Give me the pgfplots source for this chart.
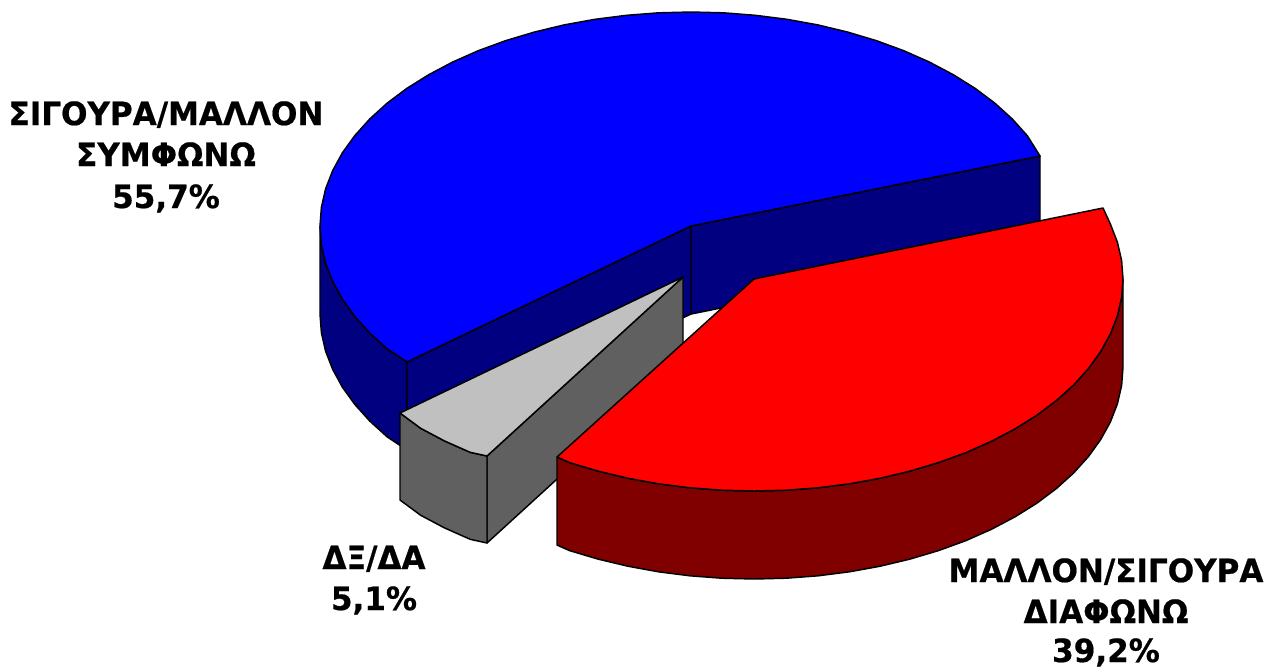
\documentclass[border=0pt]{standalone}
\usepackage{fontspec}
\newfontfamily\labfont{DejaVu Sans Bold}[FakeStretch=0.97, FakeBold=0.6]
\usepackage{pgfplots}
\pgfplotsset{compat=1.18}
\definecolor{bluetop}{HTML}{0000FF}
\definecolor{blueside}{HTML}{000080}
\definecolor{redtop}{HTML}{FF0000}
\definecolor{redside}{HTML}{800000}
\definecolor{graytop}{HTML}{C0C0C0}
\definecolor{grayside}{HTML}{606060}
\tikzset{lab/.style={anchor=base, inner sep=0pt, font=\fontsize{24}{24}\selectfont\labfont}}

\begin{document}
\begin{tikzpicture}
\path[use as bounding box] (0,0) rectangle (949.5pt,501.75pt);
\begin{axis}[
    at={(0,0)}, anchor=south west,
    scale only axis,
    width=949.5pt, height=501.75pt,
    xmin=0, xmax=1266, ymin=0, ymax=669,
    y dir=reverse,
    hide axis,
    clip=false,
    every axis plot/.append style={draw=black, line width=1.1pt, line join=round, mark=none},
]
% ΣΙΓΟΥΡΑ/ΜΑΛΛΟΝ ΣΥΜΦΩΝΩ: outer wall, two cut walls, top
\addplot[fill=blueside] coordinates {
    (320,226) (321.4,244.7) (325.6,263.2) (332.7,281.4) (342.4,299.2) (354.8,316.4) (369.7,333) (387.1,348.8) (407,362)
    (407,450) (387.1,436.8) (369.7,421) (354.8,404.4) (342.4,387.2) (332.7,369.4) (325.6,351.2) (321.4,332.7) (320,314)
} --cycle;
\addplot[fill=blueside] coordinates {(691,226) (407,362) (407,450) (691,314)} --cycle;
\addplot[fill=blueside] coordinates {(691,226) (1040,156) (1040,244) (691,314)} --cycle;
\addplot[fill=bluetop] coordinates {
    (691,226) (1040,156) (1027.2,135.6) (1012.3,119) (994.9,103.2) (975.2,88.4) (953.3,74.7) (929.5,62.1)
    (903.8,50.7) (876.5,40.7) (847.8,32.1) (817.9,24.9) (787,19.3) (755.4,15.3) (723.4,12.8) (691,12)
    (658.6,12.8) (626.6,15.3) (595,19.3) (564.1,24.9) (534.2,32.1) (505.5,40.7) (478.2,50.7) (452.5,62.1)
    (428.7,74.7) (406.8,88.4) (387.1,103.2) (369.7,119) (354.8,135.6) (342.4,152.8) (332.7,170.6) (325.6,188.8)
    (321.4,207.3) (320,226) (321.4,244.7) (325.6,263.2) (332.7,281.4) (342.4,299.2) (354.8,316.4) (369.7,333)
    (387.1,348.8) (407,362)
} --cycle;

% ΔΞ/ΔΑ slice
\addplot[fill=grayside] coordinates {(487,456) (683,277) (683,364) (487,543)} --cycle;
\addplot[fill=grayside] coordinates {
    (400,413) (420.7,428.3) (444.5,440.9) (470.2,452.3) (487,456)
    (487,543) (470.2,539.3) (444.5,527.9) (420.7,515.3) (400,500)
} --cycle;
\addplot[fill=graytop] coordinates {
    (683,277) (400,413) (420.7,428.3) (444.5,440.9) (470.2,452.3) (487,456)
} --cycle;

% ΜΑΛΛΟΝ/ΣΙΓΟΥΡΑ ΔΙΑΦΩΝΩ slice
\addplot[fill=redside] coordinates {
    (1123,279) (1121.6,297.5) (1117.4,315.8) (1110.4,333.9) (1100.7,351.5) (1088.4,368.6) (1073.6,385) (1056.3,400.6)
    (1036.7,415.3) (1014.9,428.9) (991.2,441.4) (965.7,452.7) (938.5,462.6) (909.9,471.1) (880.2,478.2) (849.5,483.8)
    (818.1,487.8) (786.2,490.2) (754,491) (721.8,490.2) (689.9,487.8) (658.5,483.8) (627.8,478.2) (598.1,471.1)
    (569.5,462.6) (557,457)
    (557,545) (569.5,550.6) (598.1,559.1) (627.8,566.2) (658.5,571.8) (689.9,575.8) (721.8,578.2) (754,579)
    (786.2,578.2) (818.1,575.8) (849.5,571.8) (880.2,566.2) (909.9,559.1) (938.5,550.6) (965.7,540.7) (991.2,529.4)
    (1014.9,516.9) (1036.7,503.3) (1056.3,488.6) (1073.6,473) (1088.4,456.6) (1100.7,439.5) (1110.4,421.9) (1117.4,403.8)
    (1121.6,385.5) (1123,367)
} --cycle;
\addplot[fill=redtop] coordinates {
    (754,279) (1103,208) (1110.4,224.1) (1117.4,242.2) (1121.6,260.5) (1123,279) (1121.6,297.5) (1117.4,315.8)
    (1110.4,333.9) (1100.7,351.5) (1088.4,368.6) (1073.6,385) (1056.3,400.6) (1036.7,415.3) (1014.9,428.9) (991.2,441.4)
    (965.7,452.7) (938.5,462.6) (909.9,471.1) (880.2,478.2) (849.5,483.8) (818.1,487.8) (786.2,490.2) (754,491)
    (721.8,490.2) (689.9,487.8) (658.5,483.8) (627.8,478.2) (598.1,471.1) (569.5,462.6) (557,457)
} --cycle;

\node[lab] at (axis cs:166,125) {ΣΙΓΟΥΡΑ/ΜΑΛΛΟΝ};
\node[lab] at (axis cs:166,166) {ΣΥΜΦΩΝΩ};
\node[lab] at (axis cs:166,208) {55,7\%};
\node[lab] at (axis cs:374,569) {ΔΞ/ΔΑ};
\node[lab] at (axis cs:374,610) {5,1\%};
\node[lab] at (axis cs:1106,582) {ΜΑΛΛΟΝ/ΣΙΓΟΥΡΑ};
\node[lab] at (axis cs:1106,623) {ΔΙΑΦΩΝΩ};
\node[lab] at (axis cs:1106,662) {39,2\%};
\end{axis}
\end{tikzpicture}
\end{document}
